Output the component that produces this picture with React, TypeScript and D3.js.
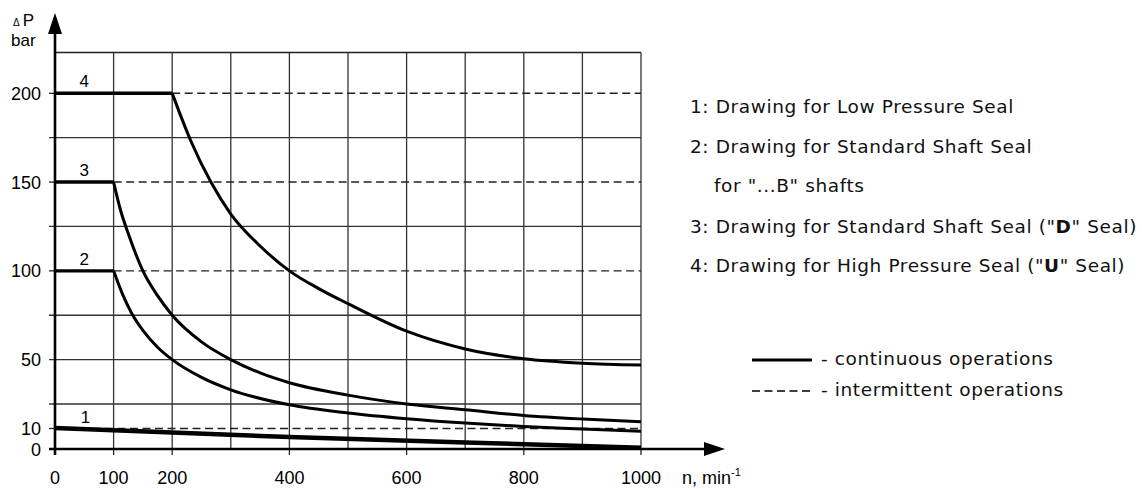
import React from "react";
import * as d3 from "d3";

// ---- data ----
const xTicks = [0, 100, 200, 400, 600, 800, 1000];
const xGrid = [100, 200, 300, 400, 500, 600, 700, 800, 900, 1000];
const yTickLabels = [0, 10, 50, 100, 150, 200];
const ySolidGrid = [25, 50, 75, 125, 175];
const yTop = 223;

// curve 4 (High pressure seal)
const flat4 = [0, 200];
const n4 = [200, 232, 266, 300, 350, 400, 450, 500, 600, 700, 800, 900, 1000];
const p4 = [200, 173, 150, 132, 114, 100, 90, 81.5, 66, 56, 50.5, 48, 47];
// curve 3 (standard shaft seal "D")
const flat3 = [0, 150];
const n3 = [100, 112, 125, 150, 175, 200, 250, 300, 350, 400, 500, 600, 700, 800, 900, 1000];
const p3 = [150, 134, 121, 100, 86, 75, 60, 50, 42.5, 37, 30, 25, 21.5, 18, 15.8, 14.2];
// curve 2 (standard shaft seal "...B")
const flat2 = [0, 100];
const n2 = [100, 115, 131, 150, 175, 200, 250, 300, 400, 500, 600, 700, 800, 900, 1000];
const p2 = [100, 87, 76, 66.5, 57, 50, 40, 33, 24.5, 19.5, 16, 13.3, 11.2, 9.8, 8.6];
// curve 1 (low pressure seal)
const n1 = [0, 200, 400, 700, 1000];
const p1 = [10.3, 8.1, 5.8, 3.2, 0.6];

// intermittent (dashed) limits: [pressure, start speed]
const dashP = [200, 150, 100, 10];
const dashStart = [200, 100, 100, 0];

const curveLabels = ["1", "2", "3", "4"];
const curveLabelP = [10, 100, 150, 200];
const curveLabelN = [52, 50, 50, 50];

const legendLines = [
  "1: Drawing for Low Pressure Seal",
  "2: Drawing for Standard Shaft Seal",
];

const W = 1142;
const H = 489;

export default function App() {
  const x = d3.scaleLinear().domain([0, 1000]).range([55, 641]);
  const y = d3
    .scaleLinear()
    .domain([0, 10, 25, 200, yTop])
    .range([449, 428.5, 404, 93.3, 52.5]);

  const line = d3
    .line<[number, number]>()
    .x((d) => x(d[0]))
    .y((d) => y(d[1]))
    .curve(d3.curveMonotoneX);
  const straight = d3
    .line<[number, number]>()
    .x((d) => x(d[0]))
    .y((d) => y(d[1]));

  const zip = (a: number[], b: number[]) => a.map((v, i) => [v, b[i]] as [number, number]);

  const flats = [
    { p: flat4[1], n: n4[0] },
    { p: flat3[1], n: n3[0] },
    { p: flat2[1], n: n2[0] },
  ];

  const tickFont = "'Liberation Sans', Arial, sans-serif";
  const legFont = "'DejaVu Sans', sans-serif";
  const x0 = x(0);
  const y0 = y(0);

  return (
    <svg
      width={W}
      height={H}
      style={{ position: "absolute", left: 0, top: 0, background: "#fff" }}
    >
      {/* vertical grid */}
      {xGrid.map((v) => (
        <line key={"vg" + v} x1={x(v)} x2={x(v)} y1={y(yTop)} y2={y0} stroke="#333" strokeWidth={1.3} />
      ))}
      {/* top border */}
      <line x1={x0} x2={x(1000)} y1={y(yTop)} y2={y(yTop)} stroke="#222" strokeWidth={1.3} />
      {/* solid horizontal grid */}
      {ySolidGrid.map((v) => (
        <line key={"hg" + v} x1={x0 - 6} x2={x(1000)} y1={y(v)} y2={y(v)} stroke="#333" strokeWidth={1.3} />
      ))}
      {/* tick stubs for dashed levels */}
      {dashP.map((v) => (
        <line key={"ts" + v} x1={x0 - 6} x2={x0} y1={y(v)} y2={y(v)} stroke="#222" strokeWidth={1.3} />
      ))}
      {/* dashed intermittent lines */}
      {dashP.map((v, i) => (
        <line
          key={"dl" + v}
          x1={x(dashStart[i])}
          x2={x(1000)}
          y1={y(v)}
          y2={y(v)}
          stroke="#222"
          strokeWidth={1.4}
          strokeDasharray="8,4.5"
        />
      ))}
      {/* x ticks */}
      {xTicks.map((v) => (
        <line key={"xt" + v} x1={x(v)} x2={x(v)} y1={y0} y2={y0 + 6} stroke="#222" strokeWidth={1.3} />
      ))}

      {/* curves */}
      {flats.map((f, i) => (
        <path key={"fl" + i} d={straight([[0, f.p], [f.n, f.p]]) || ""} fill="none" stroke="#000" strokeWidth={3.4} />
      ))}
      <path d={line(zip(n4, p4)) || ""} fill="none" stroke="#000" strokeWidth={3} />
      <path d={line(zip(n3, p3)) || ""} fill="none" stroke="#000" strokeWidth={3} />
      <path d={line(zip(n2, p2)) || ""} fill="none" stroke="#000" strokeWidth={3} />
      <path d={straight(zip(n1, p1)) || ""} fill="none" stroke="#000" strokeWidth={4.5} />

      {/* axes */}
      <line x1={x0} x2={x0} y1={y0 + 6} y2={30} stroke="#000" strokeWidth={2.6} />
      <path d={`M${x0},13 L${x0 - 7},34 L${x0 + 7},34 Z`} fill="#000" />
      <line x1={x0 - 6} x2={708} y1={y0} y2={y0} stroke="#000" strokeWidth={2.6} />
      <path d={`M725,${y0} L704,${y0 - 7} L704,${y0 + 7} Z`} fill="#000" />

      {/* tick labels */}
      {xTicks.map((v) => (
        <text key={"xl" + v} x={x(v)} y={484} textAnchor="middle" fontFamily={tickFont} fontSize={18} fill="#000">
          {v}
        </text>
      ))}
      {yTickLabels.map((v) => (
        <text key={"yl" + v} x={41} y={y(v) + 6.5} textAnchor="end" fontFamily={tickFont} fontSize={18} fill="#000">
          {v}
        </text>
      ))}

      {/* axis titles */}
      <text x={13} y={26} fontFamily={tickFont} fill="#000">
        <tspan fontSize={10}>Δ</tspan>
        <tspan fontSize={17} dx={3}>P</tspan>
      </text>
      <text x={11} y={46} fontFamily={tickFont} fontSize={17} fill="#000">bar</text>
      <text x={682} y={484} fontFamily={tickFont} fontSize={18} fill="#000">
        n, min
        <tspan fontSize={11} dy={-8}>-1</tspan>
      </text>

      {/* curve labels */}
      {curveLabels.map((c, i) => (
        <text
          key={"cl" + c}
          x={x(curveLabelN[i])}
          y={y(curveLabelP[i]) - 6}
          textAnchor="middle"
          fontFamily={tickFont}
          fontSize={17}
          fill="#000"
        >
          {c}
        </text>
      ))}

      {/* legend */}
      <g fontFamily={legFont} fontSize={18.5} letterSpacing={0.6} fill="#111">
        <text x={690} y={112.5}>{legendLines[0]}</text>
        <text x={690} y={152.5}>{legendLines[1]}</text>
        <text x={714} y={192}>for "...B" shafts</text>
        <text x={690} y={232.5}>
          3: Drawing for Standard Shaft Seal ("<tspan fontWeight="bold">D</tspan>" Seal)
        </text>
        <text x={690} y={272}>
          4: Drawing for High Pressure Seal ("<tspan fontWeight="bold">U</tspan>" Seal)
        </text>
        <line x1={752} x2={812} y1={360} y2={360} stroke="#000" strokeWidth={3} />
        <line x1={752} x2={814} y1={391} y2={391} stroke="#000" strokeWidth={1.5} strokeDasharray="8,4.5" />
        <text x={821} y={365}>- continuous operations</text>
        <text x={821} y={396}>- intermittent operations</text>
      </g>
    </svg>
  );
}
